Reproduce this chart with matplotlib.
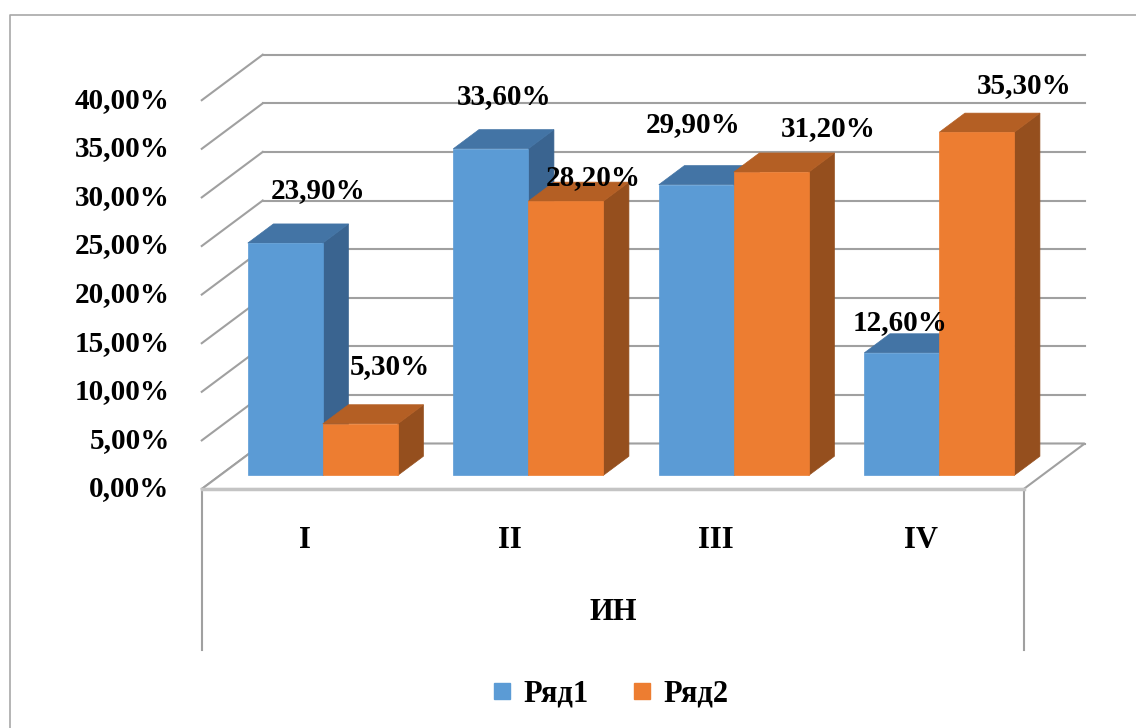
import matplotlib
matplotlib.use("Agg")
import matplotlib.pyplot as plt
from matplotlib.patches import Polygon
from matplotlib.lines import Line2D

# ---- data -------------------------------------------------------------
categories = ["I", "II", "III", "IV"]
series_names = ["Ряд1", "Ряд2"]
row1 = [23.9, 33.6, 29.9, 12.6]
row2 = [5.3, 28.2, 31.2, 35.3]
y_ticks = [0, 5, 10, 15, 20, 25, 30, 35, 40]
axis_title = "ИН"

# label nudges (pixels) relative to the front-top centre of each bar
label_nudge_1 = [(33, 52), (13, 52), (-3, 60), (-2, 30)]
label_nudge_2 = [(30, 57), (27, 24), (57, 44), (47, 47)]

# ---- style ------------------------------------------------------------
FONT = "Liberation Serif"
plt.rcParams["font.family"] = [FONT, "DejaVu Serif"]
plt.rcParams["font.weight"] = "bold"

face_cols = [("#5b9bd5", "#4374a5", "#3a6490"),
             ("#ed7d31", "#b45f24", "#954f1e")]
grid_col = "#a0a0a0"

W, H, DPI = 1136, 728, 100
fig = plt.figure(figsize=(W / DPI, H / DPI), dpi=DPI)
fig.patch.set_facecolor("white")
ax = fig.add_axes([0, 0, 1, 1])
ax.set_axis_off()

# scale: one category column and one percent in pixels
col_px, pct_px = 205.5, 9.72
x0_px, y0_px = 304.5, 489
ax.set_xlim(-x0_px / col_px, (W - x0_px) / col_px)
ax.set_ylim((y0_px - H) / pct_px, y0_px / pct_px)

# oblique depth direction (floor front -> back wall)
DX, DY = 61 / col_px, 45.5 / pct_px
n = len(categories)
left, right = -0.5, n - 0.5


def proj(x, y, z):
    return (x + z * DX, y + z * DY)


# back wall and left wall gridlines
for t in y_ticks:
    p0, p1 = proj(left, t, 1), proj(right, t, 1)
    ax.plot([p0[0], p1[0]], [p0[1], p1[1]], color=grid_col, lw=1.5, zorder=1)
    q0, q1 = proj(left, t, 0), proj(left, t, 1)
    ax.plot([q0[0], q1[0]], [q0[1], q1[1]], color=grid_col, lw=1.5, zorder=1)

# floor
floor = Polygon([proj(left, 0, 0), proj(right, 0, 0), proj(right, 0, 1), proj(left, 0, 1)],
                closed=True, facecolor="white", edgecolor=grid_col, lw=1.5, zorder=2)
ax.add_patch(floor)
ax.plot([left, right], [0, 0], color="#c4c4c4", lw=2.5, zorder=2.1)

# front panel below the floor holding the category axis
box_bottom = (y0_px - 650) / pct_px
for xv in (left, right):
    ax.plot([xv, xv], [0, box_bottom], color=grid_col, lw=1.5, zorder=2)

# bars
bw = 75 / col_px
z_front, z_back = 0.30, 0.72
series = [row1, row2]
nudges = [label_nudge_1, label_nudge_2]
for s, vals in enumerate(series):
    fcol, tcol, scol = face_cols[s]
    for i, v in enumerate(vals):
        xa = i - bw if s == 0 else i
        xb = xa + bw
        front = [proj(xa, 0, z_front), proj(xb, 0, z_front), proj(xb, v, z_front), proj(xa, v, z_front)]
        top = [proj(xa, v, z_front), proj(xb, v, z_front), proj(xb, v, z_back), proj(xa, v, z_back)]
        side = [proj(xb, 0, z_front), proj(xb, v, z_front), proj(xb, v, z_back), proj(xb, 0, z_back)]
        zo = 3 + i * 2 + s
        for pts, c in ((side, scol), (top, tcol), (front, fcol)):
            ax.add_patch(Polygon(pts, closed=True, facecolor=c, edgecolor=c, lw=0.5, zorder=zo))
        anchor = proj((xa + xb) / 2, v, z_front)
        ax.annotate(f"{v:.2f}%".replace(".", ","), xy=anchor, xytext=nudges[s][i],
                    textcoords="offset pixels", ha="center", va="center",
                    fontsize=21, fontweight="bold", color="black", zorder=20)

# value axis labels on the front-left edge
for t in y_ticks:
    ax.annotate(f"{t:.2f}%".replace(".", ","), xy=(left, t), xytext=(-32, 0),
                textcoords="offset pixels", ha="right", va="center",
                fontsize=21, fontweight="bold", color="black")

# category labels and axis title
for i, c in enumerate(categories):
    ax.text(i, (y0_px - 540) / pct_px, c, ha="center", va="center",
            fontsize=22, fontweight="bold")
ax.text((left + right) / 2, (y0_px - 612) / pct_px, axis_title, ha="center", va="center",
        fontsize=22, fontweight="bold")

# chart frame
fig.add_artist(Line2D([10 / W, 10 / W, 1.0], [0.0, 1 - 15 / H, 1 - 15 / H],
                      transform=fig.transFigure, color="#a8a8a8", lw=1.2))

# legend
handles = [Line2D([], [], ls="none", marker="s", markersize=11,
                  markerfacecolor=face_cols[k][0], markeredgecolor=face_cols[k][0])
           for k in range(2)]
fig.legend(handles, series_names, loc="center", bbox_to_anchor=(610 / W, 1 - 694 / H),
           ncol=2, frameon=False, handlelength=0.7, handletextpad=0.35, columnspacing=1.4,
           prop={"family": FONT, "weight": "bold", "size": 22})

fig.savefig("out.png", dpi=DPI, facecolor="white")
